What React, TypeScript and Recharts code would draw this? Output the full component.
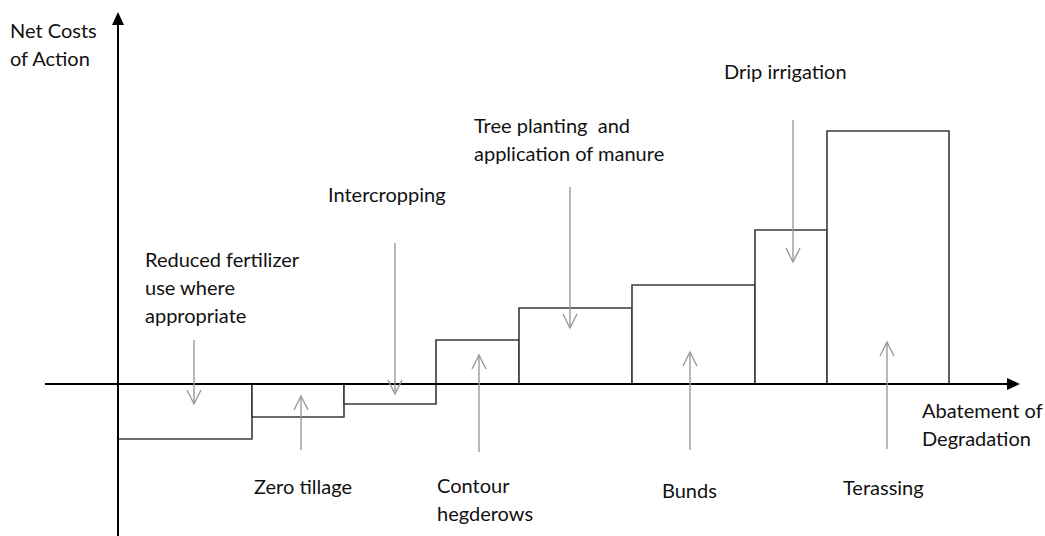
import { ComposedChart, ReferenceArea, ReferenceLine, XAxis, YAxis } from "recharts";

// abatement measures, ordered by net cost (units are relative)
const measures = [
  "Reduced fertilizer use where appropriate",
  "Zero tillage",
  "Intercropping",
  "Contour hegderows",
  "Tree planting and application of manure",
  "Bunds",
  "Drip irrigation",
  "Terassing",
];
const abatement = [13.4, 9.2, 9.2, 8.3, 11.3, 12.3, 7.2, 12.2];
const netCost = [-5.5, -3.3, -2.0, 4.4, 7.6, 9.9, 15.4, 25.3];

// callout arrows: x position, tail and tip (same units as the chart)
const arrowAt = [7.6, 18.3, 27.7, 36.1, 45.2, 57.2, 67.5, 76.9];
const arrowFrom = [4.4, -6.6, 14.1, -6.8, 19.7, -6.6, 26.4, -6.5];
const arrowTo = [-2.0, -1.2, -1.0, 2.9, 5.6, 3.2, 12.2, 4.2];

const X_DOMAIN: [number, number] = [-11.8, 92.7];
const Y_DOMAIN: [number, number] = [-15.2, 38.4];

const W = 1045;
const H = 536;
const FONT = "Lato, 'Open Sans', sans-serif";

const starts = abatement.map((_, i) =>
  abatement.slice(0, i).reduce((a, b) => a + b, 0)
);

function arrowShape(color: string, width: number, len: number, half: number, filled: boolean) {
  return (props: any) => {
    const { x1, y1, x2, y2 } = props;
    const dx = x2 - x1;
    const dy = y2 - y1;
    const d = Math.sqrt(dx * dx + dy * dy) || 1;
    const ux = dx / d;
    const uy = dy / d;
    const bx = x2 - ux * len;
    const by = y2 - uy * len;
    const lx = bx - uy * half;
    const ly = by + ux * half;
    const rx = bx + uy * half;
    const ry = by - ux * half;
    return (
      <g>
        <line
          x1={x1}
          y1={y1}
          x2={filled ? bx : x2}
          y2={filled ? by : y2}
          stroke={color}
          strokeWidth={width}
        />
        {filled ? (
          <polygon points={`${x2},${y2} ${lx},${ly} ${rx},${ry}`} fill={color} />
        ) : (
          <polyline
            points={`${lx},${ly} ${x2},${y2} ${rx},${ry}`}
            fill="none"
            stroke={color}
            strokeWidth={width}
          />
        )}
      </g>
    );
  };
}

const labels = [
  { x: 10, y: 38, lines: ["Net Costs", "of Action"] },
  { x: 145, y: 267, lines: ["Reduced fertilizer", "use where", "appropriate"] },
  { x: 328, y: 202, lines: ["Intercropping"] },
  { x: 474, y: 133, lines: ["Tree planting  and", "application of manure"] },
  { x: 724, y: 79, lines: ["Drip irrigation"] },
  { x: 254, y: 494, lines: ["Zero tillage"] },
  { x: 437, y: 493, lines: ["Contour", "hegderows"] },
  { x: 662, y: 498, lines: ["Bunds"] },
  { x: 843, y: 495, lines: ["Terassing"] },
  { x: 922, y: 418, lines: ["Abatement of", "Degradation"] },
];

export default function App() {
  return (
    <div style={{ position: "absolute", left: 0, top: 0, width: W, height: H, background: "#fff" }}>
      <ComposedChart width={W} height={H} data={[]} margin={{ top: 0, right: 0, bottom: 0, left: 0 }}>
        <XAxis type="number" dataKey="x" domain={X_DOMAIN} allowDataOverflow hide />
        <YAxis type="number" domain={Y_DOMAIN} allowDataOverflow hide />

        {measures.map((m, i) => (
          <ReferenceArea
            key={m}
            x1={starts[i]}
            x2={starts[i] + abatement[i]}
            y1={0}
            y2={netCost[i]}
            fill="#fff"
            fillOpacity={1}
            stroke="#3a3a3a"
            strokeWidth={1.6}
          />
        ))}

        {/* axes with arrow heads */}
        <ReferenceLine
          segment={[{ x: -7.3, y: 0 }, { x: 90.2, y: 0 }]}
          shape={arrowShape("#000", 2, 13, 6, true)}
        />
        <ReferenceLine
          segment={[{ x: 0, y: -15.2 }, { x: 0, y: 37.2 }]}
          shape={arrowShape("#000", 2, 13, 6, true)}
        />

        {measures.map((m, i) => (
          <ReferenceLine
            key={"arrow-" + m}
            segment={[{ x: arrowAt[i], y: arrowFrom[i] }, { x: arrowAt[i], y: arrowTo[i] }]}
            shape={arrowShape("#9a9a9a", 1.4, 14, 7, false)}
          />
        ))}
      </ComposedChart>

      <svg
        width={W}
        height={H}
        style={{ position: "absolute", left: 0, top: 0, pointerEvents: "none" }}
      >
        {labels.map((l) => (
          <text key={l.lines[0]} x={l.x} y={l.y} fontFamily={FONT} fontSize={20} fill="#111">
            {l.lines.map((t, j) => (
              <tspan key={t} x={l.x} dy={j === 0 ? 0 : 28} xmlSpace="preserve">
                {t}
              </tspan>
            ))}
          </text>
        ))}
      </svg>
    </div>
  );
}
